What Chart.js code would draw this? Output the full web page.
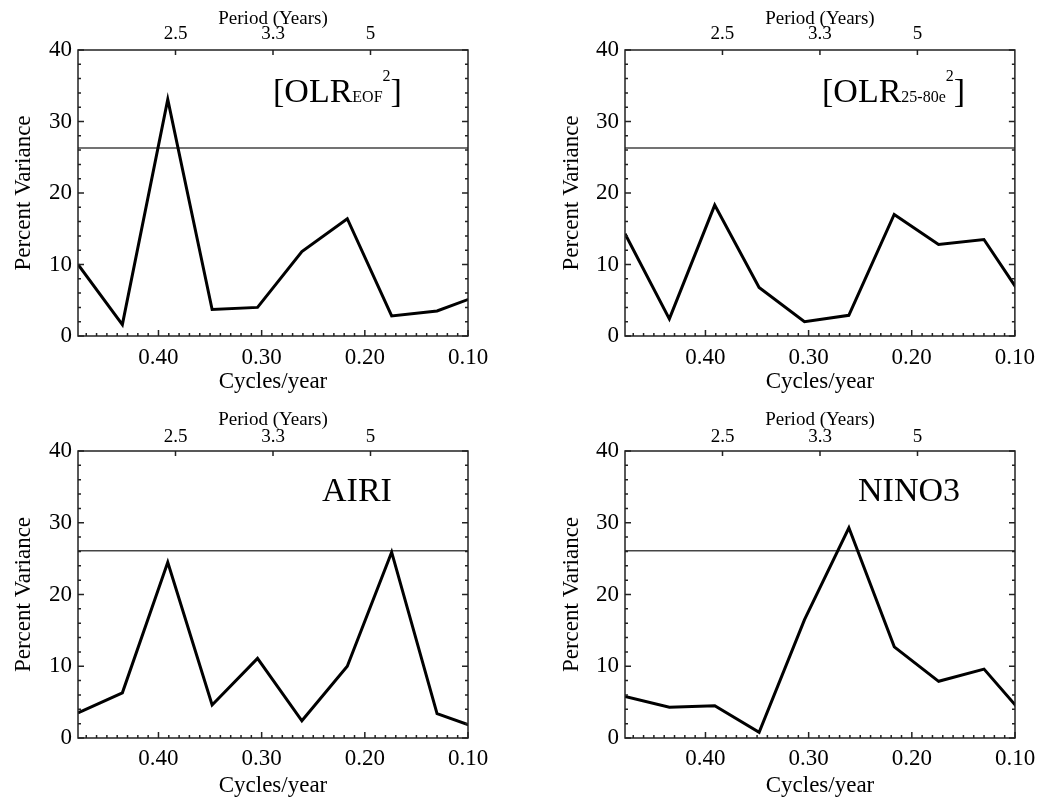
<!DOCTYPE html>
<html>
<head>
<meta charset="utf-8">
<title>Percent variance spectra</title>
<script src="https://cdn.jsdelivr.net/npm/chart.js@4.4.0/dist/chart.umd.min.js"></script>
<style>
  html, body { margin: 0; padding: 0; background: #fff; }
  #wrap { position: relative; width: 1043px; height: 801px; overflow: hidden; }
  canvas { position: absolute; }
</style>
</head>
<body>
<div id="wrap">
  <canvas id="c1" width="521" height="400" style="left:0;top:0"></canvas>
  <canvas id="c2" width="522" height="400" style="left:521px;top:0"></canvas>
  <canvas id="c3" width="521" height="401" style="left:0;top:400px"></canvas>
  <canvas id="c4" width="522" height="401" style="left:521px;top:400px"></canvas>
</div>
<script>
// Frequencies (cycles/year) of the spectral estimates, same for every panel
const freqs = [0.478, 0.435, 0.391, 0.348, 0.304, 0.261, 0.217, 0.174, 0.130, 0.087];

// Percent variance at each frequency
const olrEof  = [10.0, 1.6, 33.1, 3.7, 4.0, 11.8, 16.4, 2.8, 3.5, 5.8];
const olr2580 = [14.3, 2.4, 18.3, 6.8, 2.0, 2.9, 17.0, 12.8, 13.5, 4.2];
const airi    = [3.5, 6.3, 24.5, 4.6, 11.1, 2.4, 10.0, 25.9, 3.4, 1.2];
const nino3   = [5.8, 4.3, 4.5, 0.8, 16.5, 29.3, 12.7, 7.9, 9.6, 2.5];

// Significance level drawn as a horizontal line
const significance = [26.3, 26.3, 26.1, 26.1];

// Axis ticks
const xTicks = [0.40, 0.30, 0.20, 0.10];
const xTickLabels = ['0.40', '0.30', '0.20', '0.10'];
const yTicks = [0, 10, 20, 30, 40];
const periodTicks = [0.4, 0.3, 0.2];
const periodLabels = ['2.5', '3.3', '5'];

const SERIF = '"Liberation Serif", "Times New Roman", serif';

// IDL style frame: box with inward ticks, minor ticks on bottom / left / right
const idlFrame = {
  id: 'idlFrame',
  afterDatasetsDraw(chart) {
    const {ctx, chartArea: a, scales: {x, y, x2}} = chart;
    ctx.save();
    ctx.strokeStyle = '#222';
    ctx.lineWidth = 1.5;
    ctx.beginPath();
    for (let v = 0; v <= 40; v += 2) {
      const py = y.getPixelForValue(v);
      const len = v % 10 === 0 ? 6 : 3;
      ctx.moveTo(a.left, py); ctx.lineTo(a.left + len, py);
      ctx.moveTo(a.right, py); ctx.lineTo(a.right - len, py);
    }
    for (let k = 10; k <= 47; k++) {
      const px = x.getPixelForValue(k / 100);
      const len = k % 10 === 0 ? 6 : 3;
      ctx.moveTo(px, a.bottom); ctx.lineTo(px, a.bottom - len);
    }
    periodTicks.forEach(v => {
      const px = x2.getPixelForValue(v);
      ctx.moveTo(px, a.top); ctx.lineTo(px, a.top + 5);
    });
    ctx.stroke();
    ctx.strokeRect(a.left, a.top, a.right - a.left, a.bottom - a.top);
    ctx.restore();
  }
};

// Panel name, with optional subscript / superscript
const panelLabel = {
  id: 'panelLabel',
  afterDraw(chart, args, opts) {
    const {ctx, chartArea: a} = chart;
    let px = a.left + opts.dx;
    const base = a.top + opts.dy;
    ctx.save();
    ctx.fillStyle = '#000';
    ctx.textBaseline = 'alphabetic';
    ctx.textAlign = 'left';
    const put = (text, size, rise) => {
      ctx.font = size + 'px ' + SERIF;
      ctx.fillText(text, px, base - rise);
      px += ctx.measureText(text).width;
    };
    put(opts.main, 34, 0);
    if (opts.sub) put(opts.sub, 16, 0);
    if (opts.sup) put(opts.sup, 16, 21);
    if (opts.close) put(opts.close, 34, 0);
    ctx.restore();
  }
};

// Geometry of the two columns and two rows
const cols = [
  {left: 78, right: 468, width: 521, yTitleX: 24},
  {left: 104, right: 494, width: 522, yTitleX: 51}
];
const rows = [
  {top: 50, bottom: 336, height: 400, xTickPad: 8, xTitleY: 382, topTickPad: 5, topTitleY: 19},
  {top: 51, bottom: 338, height: 401, xTickPad: 7, xTitleY: 386, topTickPad: 3, topTitleY: 20}
];

const noGrid = {display: false, drawTicks: false};

function makePanel(id, values, sig, label, col, row) {
  const c = cols[col], r = rows[row];
  const ctx = document.getElementById(id).getContext('2d');
  return new Chart(ctx, {
    type: 'line',
    data: {
      datasets: [{
        data: freqs.map((f, i) => ({x: f, y: values[i]})),
        borderColor: '#000',
        borderWidth: 3,
        pointRadius: 0,
        tension: 0,
        clip: 0
      }, {
        data: [{x: freqs[0], y: sig}, {x: 0.10, y: sig}],
        borderColor: '#444',
        borderWidth: 1.5,
        pointRadius: 0,
        clip: 0
      }]
    },
    options: {
      responsive: false,
      animation: false,
      devicePixelRatio: 1,
      layout: {padding: {left: 0, top: 0, bottom: 0, right: c.width - c.right}},
      plugins: {
        legend: {display: false},
        tooltip: {enabled: false},
        panelLabel: label
      },
      scales: {
        x: {
          type: 'linear',
          position: 'bottom',
          reverse: true,
          min: 0.10,
          max: freqs[0],
          grid: noGrid,
          border: {display: false},
          afterBuildTicks: s => { s.ticks = xTicks.map(v => ({value: v})); },
          afterFit: s => { s.height = r.height - r.bottom; },
          ticks: {
            autoSkip: false, maxRotation: 0, padding: r.xTickPad,
            color: '#000', font: {family: SERIF, size: 23},
            callback: (v, i) => xTickLabels[i]
          },
          title: {
            display: true, text: 'Cycles/year', color: '#000',
            font: {family: SERIF, size: 23},
            padding: {top: 0, bottom: r.height - r.xTitleY - 13.8}
          }
        },
        x2: {
          type: 'linear',
          position: 'top',
          reverse: true,
          min: 0.10,
          max: 0.50,
          grid: noGrid,
          border: {display: false},
          afterBuildTicks: s => { s.ticks = periodTicks.map(v => ({value: v})); },
          afterFit: s => { s.height = r.top; },
          ticks: {
            autoSkip: false, maxRotation: 0, padding: r.topTickPad,
            color: '#000', font: {family: SERIF, size: 19},
            callback: (v, i) => periodLabels[i]
          },
          title: {
            display: true, text: 'Period (Years)', color: '#000',
            font: {family: SERIF, size: 19},
            padding: {top: r.topTitleY - 11.4, bottom: 0}
          }
        },
        y: {
          type: 'linear',
          position: 'left',
          min: 0,
          max: 40,
          grid: noGrid,
          border: {display: false},
          afterBuildTicks: s => { s.ticks = yTicks.map(v => ({value: v})); },
          afterFit: s => { s.width = c.left; },
          ticks: {
            padding: 6, color: '#000', font: {family: SERIF, size: 23}
          },
          title: {
            display: true, text: 'Percent Variance', color: '#000',
            font: {family: SERIF, size: 23},
            padding: {top: c.yTitleX - 13.8, bottom: 0}
          }
        }
      }
    },
    plugins: [idlFrame, panelLabel]
  });
}

makePanel('c1', olrEof, significance[0],
  {main: '[OLR', sub: 'EOF', sup: '2', close: ']', dx: 195, dy: 52}, 0, 0);
makePanel('c2', olr2580, significance[1],
  {main: '[OLR', sub: '25-80e', sup: '2', close: ']', dx: 197, dy: 52}, 1, 0);
makePanel('c3', airi, significance[2],
  {main: 'AIRI', dx: 244, dy: 50}, 0, 1);
makePanel('c4', nino3, significance[3],
  {main: 'NINO3', dx: 233, dy: 50}, 1, 1);
</script>
</body>
</html>
